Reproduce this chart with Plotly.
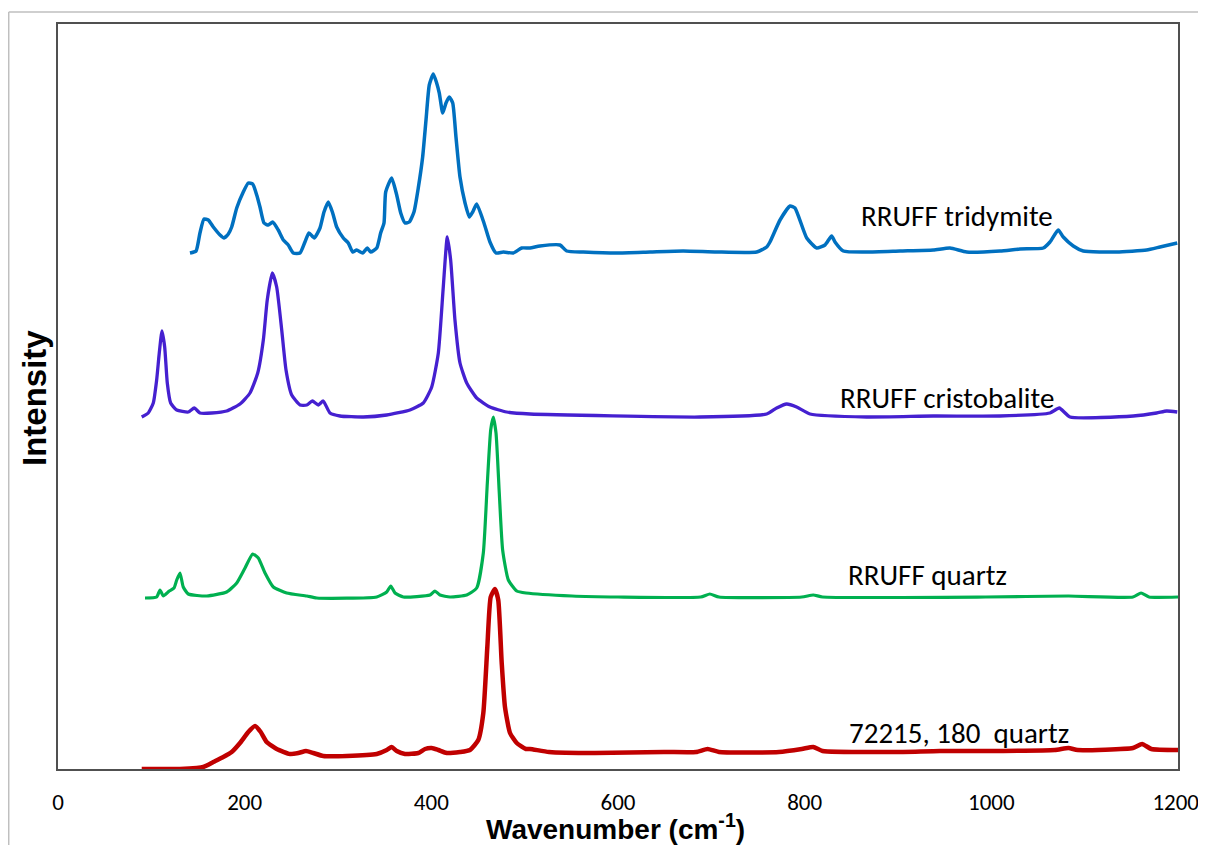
import plotly.graph_objects as go

# ---- data (wavenumber in cm^-1, intensity in arbitrary offset units) ----
trid_x = [141.4, 147.9, 152.1, 156.4, 161.0, 166.4, 173.6, 177.9, 182.5, 186.1, 191.5, 198.5, 203.9, 208.6,
          212.9, 216.4, 220.7, 225.3, 230.0, 236.0, 241.4, 246.7, 252.1, 259.3, 264.6, 268.9, 274.6, 280.7,
          285.0, 289.6, 294.3, 298.6, 305.7, 311.0, 315.7, 320.0, 326.5, 331.4, 335.0, 341.5, 345.7, 349.3,
          351.1, 357.5, 362.9, 367.2, 371.8, 376.4, 381.4, 386.0, 390.7, 394.3, 397.8, 402.1, 405.7, 408.5,
          412.2, 415.7, 419.2, 422.9, 426.4, 430.7, 436.1, 440.7, 444.3, 448.6, 456.4, 462.8, 469.3, 477.1,
          487.8, 496.8, 505.7, 516.4, 537.8, 545.0, 562.8, 598.6, 634.3, 669.9, 705.7, 748.6, 759.3, 762.8,
          773.6, 784.3, 789.6, 802.2, 812.9, 821.8, 828.9, 832.5, 841.4, 866.4, 902.1, 937.8, 955.7, 973.6,
          1009.3, 1030.7, 1055.7, 1062.8, 1071.7, 1077.1, 1087.8, 1098.5, 1134.3, 1166.4, 1180.7, 1199.2]
trid_y = [5.16, 5.18, 5.36, 5.50, 5.49, 5.42, 5.34, 5.31, 5.35, 5.42, 5.61, 5.77, 5.86, 5.85,
          5.74, 5.62, 5.46, 5.44, 5.47, 5.39, 5.29, 5.24, 5.16, 5.16, 5.27, 5.36, 5.31, 5.41,
          5.57, 5.67, 5.56, 5.42, 5.31, 5.26, 5.17, 5.19, 5.16, 5.21, 5.17, 5.21, 5.36, 5.46,
          5.77, 5.91, 5.74, 5.56, 5.46, 5.47, 5.57, 5.81, 6.12, 6.49, 6.84, 6.95, 6.86, 6.76,
          6.56, 6.66, 6.72, 6.66, 6.32, 5.92, 5.66, 5.52, 5.57, 5.65, 5.46, 5.27, 5.16, 5.17,
          5.16, 5.21, 5.21, 5.23, 5.24, 5.18, 5.17, 5.16, 5.17, 5.18, 5.17, 5.17, 5.22, 5.27,
          5.49, 5.63, 5.61, 5.31, 5.21, 5.24, 5.33, 5.27, 5.18, 5.17, 5.18, 5.19, 5.21, 5.17,
          5.18, 5.20, 5.21, 5.27, 5.39, 5.32, 5.23, 5.18, 5.17, 5.19, 5.22, 5.26]

crist_x = [89.7, 96.7, 102.1, 105.7, 108.5, 111.4, 114.3, 117.1, 120.7, 127.2, 139.6, 146.0, 152.1, 164.7,
           180.7, 195.0, 205.7, 214.0, 220.0, 224.2, 229.6, 234.3, 239.7, 244.3, 250.4, 259.3, 266.5, 272.5,
           278.9, 284.2, 291.4, 302.1, 327.1, 352.2, 377.1, 391.4, 400.4, 407.5, 412.8, 417.1, 420.7, 425.3,
           430.7, 437.9, 448.6, 462.8, 480.7, 505.7, 687.8, 759.3, 770.0, 780.7, 791.4, 805.7, 866.4, 937.8,
           1009.3, 1062.8, 1072.8, 1084.3, 1152.1, 1177.1, 1187.9, 1199.2]
crist_y = [3.52, 3.56, 3.66, 3.89, 4.16, 4.38, 4.22, 3.86, 3.66, 3.59, 3.57, 3.61, 3.56, 3.56,
           3.58, 3.65, 3.76, 3.96, 4.29, 4.69, 4.96, 4.82, 4.39, 3.99, 3.74, 3.64, 3.64, 3.68,
           3.64, 3.68, 3.56, 3.53, 3.52, 3.54, 3.59, 3.66, 3.82, 4.16, 4.82, 5.32, 5.09, 4.49,
           4.06, 3.86, 3.71, 3.62, 3.57, 3.55, 3.52, 3.55, 3.61, 3.65, 3.62, 3.55, 3.52, 3.53,
           3.53, 3.56, 3.61, 3.52, 3.53, 3.56, 3.58, 3.57]

quartz_x = [93.2, 105.7, 109.3, 112.8, 119.2, 124.3, 127.2, 130.7, 134.2, 139.6, 159.3, 180.7, 191.5, 200.4,
            208.6, 214.6, 221.8, 230.7, 245.0, 266.5, 277.2, 341.5, 352.2, 356.5, 361.1, 370.0, 398.6, 403.9,
            409.3, 420.0, 437.9, 448.6, 455.7, 460.0, 463.6, 466.4, 469.3, 472.8, 476.4, 482.5, 491.5, 501.4,
            550.7, 600.0, 688.6, 698.4, 708.2, 796.9, 809.2, 819.1, 993.9, 1082.7, 1151.7, 1160.4, 1168.9, 1200.0]
quartz_y = [1.71, 1.72, 1.79, 1.73, 1.78, 1.81, 1.89, 1.96, 1.82, 1.75, 1.73, 1.77, 1.86, 2.01,
            2.15, 2.11, 1.96, 1.82, 1.76, 1.73, 1.71, 1.72, 1.77, 1.83, 1.76, 1.72, 1.74, 1.78,
            1.74, 1.72, 1.74, 1.81, 2.16, 2.86, 3.39, 3.52, 3.36, 2.76, 2.19, 1.89, 1.78, 1.76,
            1.73, 1.72, 1.72, 1.75, 1.72, 1.72, 1.74, 1.72, 1.72, 1.73, 1.72, 1.76, 1.72, 1.72]

sample_x = [89.7, 112.8, 130.7, 148.6, 155.7, 166.4, 177.1, 186.1, 195.0, 203.9, 211.1, 217.2, 223.6, 234.3,
            248.6, 257.5, 265.7, 273.5, 284.2, 309.3, 341.5, 352.2, 357.5, 362.9, 371.8, 386.0, 393.2, 400.4,
            407.5, 416.5, 430.7, 441.4, 450.3, 455.7, 460.0, 463.6, 468.2, 471.7, 475.4, 478.9, 484.3, 491.5,
            501.4, 505.7, 526.1, 575.3, 649.2, 683.7, 696.0, 708.2, 772.4, 796.9, 809.2, 819.1, 895.5, 944.8,
            993.9, 1067.9, 1082.7, 1092.5, 1151.7, 1161.5, 1171.4, 1200.0]
sample_y = [0.0, 0.0, 0.0, 0.01, 0.02, 0.07, 0.12, 0.17, 0.26, 0.37, 0.43, 0.37, 0.27, 0.20,
            0.15, 0.16, 0.18, 0.16, 0.13, 0.13, 0.15, 0.19, 0.22, 0.18, 0.15, 0.16, 0.20, 0.21,
            0.19, 0.16, 0.17, 0.19, 0.29, 0.56, 1.22, 1.72, 1.80, 1.69, 1.06, 0.62, 0.36, 0.26,
            0.20, 0.20, 0.17, 0.16, 0.17, 0.17, 0.20, 0.17, 0.17, 0.20, 0.22, 0.18, 0.17, 0.18,
            0.18, 0.19, 0.21, 0.19, 0.21, 0.25, 0.20, 0.19]

series = [
    ("RRUFF tridymite", trid_x, trid_y, "#0070C0", 3.5),
    ("RRUFF cristobalite", crist_x, crist_y, "#4520D0", 3.3),
    ("RRUFF quartz", quartz_x, quartz_y, "#00B050", 3.2),
    ("72215, 180\u00a0 quartz", sample_x, sample_y, "#C00000", 4.5),
]

label_x = [963.7, 952.5, 932.0, 965.4]
label_y = [5.53, 3.71, 1.94, 0.36]

x_ticks = [0, 200, 400, 600, 800, 1000, 1200]
x_ticktext = ["0", "200", "400", "600", "800", "1000", "1200\u2009"]

fig = go.Figure()
for name, xs, ys, col, w in series:
    fig.add_trace(go.Scatter(x=xs, y=ys, mode="lines", name=name,
                             line=dict(color=col, width=w, shape="spline", smoothing=0.5)))

label_font = dict(family="Carlito, Lato, sans-serif", size=29, color="#000000")
for (name, _, _, _, _), lx, ly in zip(series, label_x, label_y):
    fig.add_annotation(x=lx, y=ly, text=name, showarrow=False, font=label_font,
                       xanchor="center", yanchor="middle")

# axis titles
fig.add_annotation(xref="paper", yref="paper", x=0.498, y=-0.0779,
                   text="<b>Wavenumber (cm<sup>-1</sup>)</b>", showarrow=False,
                   font=dict(family="Liberation Sans, Arial, sans-serif", size=28, color="#000"),
                   xanchor="center", yanchor="middle")
fig.add_annotation(xref="paper", yref="paper", x=-0.0205, y=0.498,
                   text="<b>Intensity</b>", showarrow=False, textangle=-90,
                   font=dict(family="Liberation Sans, Arial, sans-serif", size=33, color="#000"),
                   xanchor="center", yanchor="middle")

# outer chart border (light gray)
fig.add_shape(type="line", xref="paper", yref="paper", x0=-0.0440, x1=-0.0440, y0=-0.2, y1=1.0161,
              line=dict(color="#BFBFBF", width=1.5))
fig.add_shape(type="line", xref="paper", yref="paper", x0=-0.0440, x1=1.1, y0=1.0161, y1=1.0161,
              line=dict(color="#BFBFBF", width=1.5))

# page body adds an 8px margin, so the figure is 16px smaller than the window
fig.update_layout(
    width=1190, height=837,
    margin=dict(l=50, r=20, t=16, b=76, autoexpand=False),
    paper_bgcolor="white", plot_bgcolor="white",
    showlegend=False,
    xaxis=dict(range=[0, 1200], tickvals=x_ticks, ticktext=x_ticktext,
               showgrid=False, zeroline=False, showline=True, mirror=True,
               linecolor="#505050", linewidth=1.5, ticks="", ticklabelstandoff=12,
               ticklabeloverflow="allow", automargin=False,
               tickfont=dict(family="Carlito, Lato, sans-serif", size=23, color="#000")),
    yaxis=dict(range=[0, 7.45], showticklabels=False, showgrid=False, zeroline=False,
               showline=True, mirror=True, linecolor="#505050", linewidth=1.5, ticks="",
               automargin=False),
)

fig.write_html("out.html")
